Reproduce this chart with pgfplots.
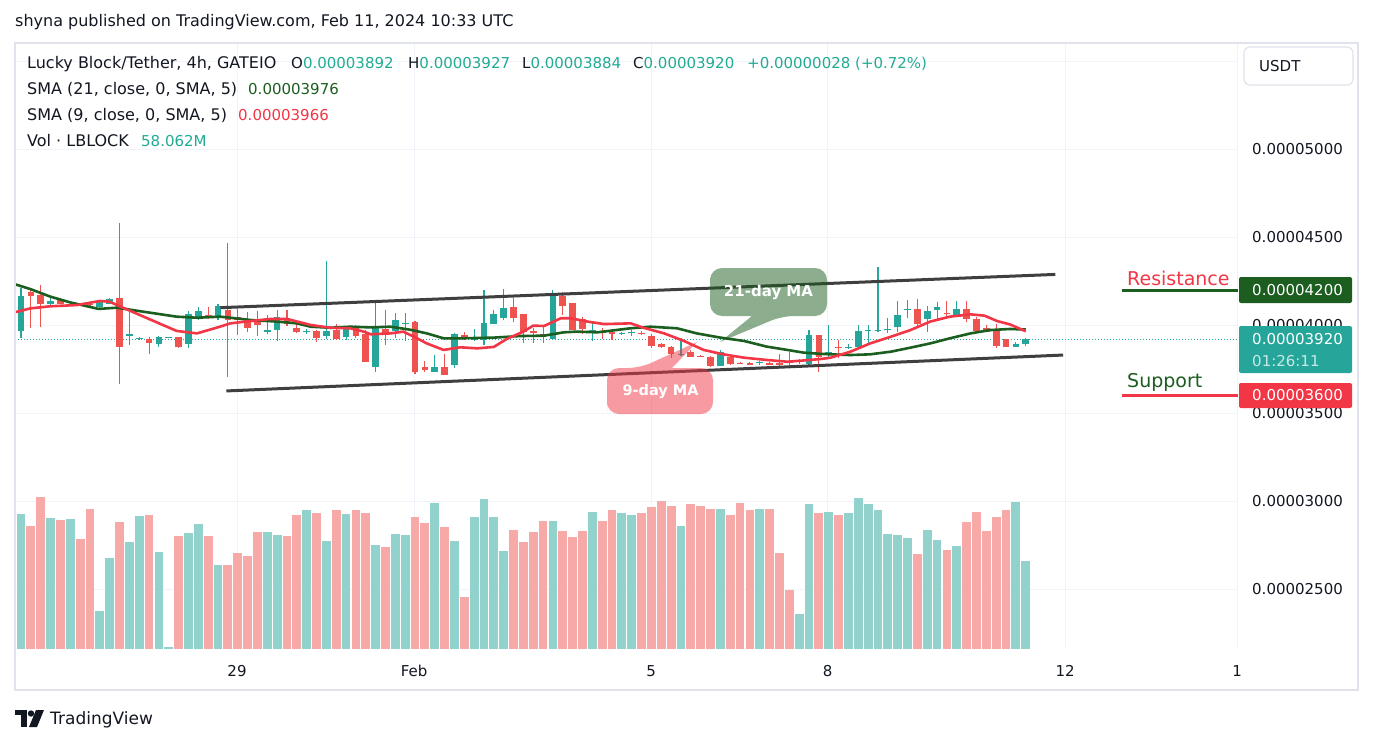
\documentclass[border=0pt]{standalone}
\usepackage{fontspec}
\setmainfont{DejaVu Sans}
\usepackage{pgfplots}
\pgfplotsset{compat=1.18}
\usepackage{pgfplotstable}
\definecolor{txt}{HTML}{131722}
\definecolor{upc}{HTML}{26A69A}
\definecolor{dnc}{HTML}{EF5350}
\definecolor{upv}{HTML}{92D2CC}
\definecolor{dnv}{HTML}{F7A9A7}
\definecolor{smag}{HTML}{1B5E20}
\definecolor{smar}{HTML}{F23645}
\definecolor{gridc}{HTML}{F0F3FA}
\definecolor{framec}{HTML}{E0E3EB}
\definecolor{chan}{HTML}{3F3F3F}
\definecolor{tvteal}{HTML}{22AB94}
\newcommand\fs[1]{\fontsize{#1}{#1}\selectfont}
% prices in units of 1e-8 USDT, volume in millions
\pgfplotstableread{
i O H L C V
0 3970 4210 3926 4166 89.1
1 4187 4206 3983 4168 81.2
2 4174 4229 3992 4119 100.3
3 4123 4153 4115 4138 86.4
4 4142 4153 4119 4123 85.1
5 4126 4135 4122 4130 85.8
6 4125 4128 4107 4110 72.6
7 4120 4124 4112 4116 92.4
8 4104 4138 4100 4130 25.1
9 4123 4157 4119 4149 60.0
10 4155 4579 3668 3879 83.8
11 3942 4091 3888 3948 70.6
12 3924 3934 3918 3928 87.8
13 3920 3934 3839 3901 88.4
14 3896 3941 3877 3934 64.0
15 3928 3932 3926 3931 1.3
16 3934 3934 3873 3879 74.6
17 3896 4081 3873 4064 76.5
18 4040 4104 4030 4081 82.5
19 4058 4104 4036 4040 74.6
20 4043 4123 4030 4110 55.4
21 4087 4466 3708 4030 55.4
22 4049 4091 3945 4030 63.3
23 4017 4077 3960 3987 61.4
24 4021 4081 3941 4002 77.2
25 3964 4058 3949 3973 77.2
26 3973 4085 3911 4047 75.2
27 4040 4085 3998 4006 74.6
28 3987 4011 3956 3964 88.4
29 3964 3977 3952 3968 91.7
30 3968 3973 3907 3930 89.7
31 3941 4365 3922 3968 71.3
32 3973 4007 3916 3920 91.7
33 3935 3998 3916 3990 89.1
34 3983 4002 3930 3941 91.7
35 3949 3973 3793 3793 89.7
36 3765 4140 3736 3996 68.6
37 3979 4087 3888 3954 67.3
38 3968 4072 3930 4030 75.9
39 4010 4072 3911 4014 75.2
40 4021 4024 3723 3736 87.1
41 3763 3797 3736 3746 83.1
42 3736 3831 3733 3763 96.3
43 3763 3839 3718 3718 80.5
44 3774 3954 3759 3951 71.3
45 3945 3964 3916 3922 34.3
46 3916 3979 3911 3920 87.1
47 3916 4201 3888 4013 99.0
48 4009 4087 4009 4064 87.1
49 4043 4206 4030 4096 64.7
50 4104 4157 4021 4043 78.5
51 4064 4064 3901 3964 70.6
52 3970 3983 3901 3958 77.2
53 3951 3988 3901 3935 84.5
54 3922 4199 3920 4165 84.5
55 4165 4187 4058 4112 77.9
56 4125 4125 3973 3973 73.9
57 4036 4047 3950 3979 77.9
58 3958 4011 3911 3973 90.4
59 3970 3983 3922 3956 84.5
60 3964 3964 3916 3949 91.7
61 3952 3964 3945 3956 89.7
62 3956 3973 3941 3960 88.4
63 3958 3967 3945 3954 89.7
64 3941 3949 3869 3884 93.7
65 3892 3901 3873 3875 97.7
66 3877 3884 3816 3835 94.4
67 3833 3926 3826 3837 81.2
68 3850 3860 3822 3822 95.7
69 3826 3831 3820 3822 94.4
70 3818 3827 3765 3771 92.4
71 3771 3860 3771 3850 92.4
72 3822 3831 3774 3778 88.4
73 3784 3790 3778 3780 96.3
74 3782 3790 3774 3778 91.7
75 3784 3799 3774 3788 92.4
76 3782 3793 3774 3778 92.4
77 3782 3835 3771 3778 63.3
78 3790 3850 3771 3786 38.9
79 3790 3808 3778 3794 23.1
80 3778 3973 3765 3945 95.7
81 3945 3945 3736 3822 89.7
82 3831 4002 3812 3850 90.4
83 3877 3916 3812 3875 88.4
84 3873 3892 3865 3877 89.7
85 3875 4002 3869 3968 99.6
86 3966 4002 3897 3970 95.7
87 3968 4329 3960 3972 91.7
88 3975 4040 3954 3979 75.9
89 3992 4138 3964 4058 75.2
90 4087 4144 4043 4091 73.2
91 4093 4149 3996 4007 62.7
92 4036 4112 3964 4081 78.5
93 4089 4130 4030 4104 71.9
94 4068 4138 4049 4066 65.3
95 4058 4138 4049 4091 68.0
96 4093 4138 4017 4034 83.8
97 4036 4049 3954 3968 90.4
98 3983 4002 3960 3964 77.9
99 3973 4005 3873 3884 87.1
100 3920 3920 3879 3879 91.7
101 3879 3903 3879 3894 97.0
102 3892 3927 3884 3920 58.1
}\candles
\begin{document}
\begin{tikzpicture}
\useasboundingbox[fill=white] (0pt,0pt) rectangle (1374pt,-744pt);
\begin{axis}[
  at={(15pt,-649pt)}, anchor=south west,
  width=1223pt, height=605pt, scale only axis,
  xmin=-0.61, xmax=123.55, ymin=2161, ymax=5598,
  axis line style={draw=none},
  major tick length=0pt,
  ytick={2500,3000,3500,4000,4500,5000,5500},
  yticklabels={0.00002500,0.00003000,0.00003500,0.00004000,0.00004500,0.00005000,{}},
  yticklabel pos=right,
  yticklabel style={anchor=west, inner sep=0pt, xshift=14pt},
  xtick={21.93,39.9,63.96,81.9,106,123.45},
  xticklabels={29,Feb,5,8,12,1},
  xticklabel style={anchor=base, inner sep=0pt, yshift=-27pt},
  grid=major, major grid style={draw=gridc, line width=1pt},
  tick label style={font=\fs{15}, text=txt},
  /pgf/number format/assume math mode=true,
  candle/.style={draw=none, mark=none, forget plot,
    error bars/y dir=plus, error bars/y explicit, error bars/error mark=none},
]
% volume
\addplot [candle, restrict expr to domain={\thisrow{C}-\thisrow{O}}{0:100000},
  error bars/error bar style={line width=8.8pt, draw=upv}]
  table [x=i, y expr=2161, y error plus expr={\thisrow{V}*8.611}] {\candles};
\addplot [candle, restrict expr to domain={\thisrow{C}-\thisrow{O}}{-100000:-0.01},
  error bars/error bar style={line width=8.8pt, draw=dnv}]
  table [x=i, y expr=2161, y error plus expr={\thisrow{V}*8.611}] {\candles};
% current price line
\addplot [upc, line width=1pt, dash pattern=on 1pt off 2pt] coordinates {(-0.61,3920) (123.55,3920)};
% wicks
\addplot [candle, restrict expr to domain={\thisrow{C}-\thisrow{O}}{0:100000},
  error bars/error bar style={line width=1.1pt, draw=upc}]
  table [x=i, y=L, y error plus expr={\thisrow{H}-\thisrow{L}}] {\candles};
\addplot [candle, restrict expr to domain={\thisrow{C}-\thisrow{O}}{-100000:-0.01},
  error bars/error bar style={line width=1.1pt, draw=dnc}]
  table [x=i, y=L, y error plus expr={\thisrow{H}-\thisrow{L}}] {\candles};
% bodies
\addplot [candle, restrict expr to domain={\thisrow{C}-\thisrow{O}}{0:100000},
  error bars/error bar style={line width=6.7pt, draw=upc}]
  table [x=i, y expr={0.5*(\thisrow{O}+\thisrow{C})-0.5*max(abs(\thisrow{C}-\thisrow{O}),6)},
         y error plus expr={max(abs(\thisrow{C}-\thisrow{O}),6)}] {\candles};
\addplot [candle, restrict expr to domain={\thisrow{C}-\thisrow{O}}{-100000:-0.01},
  error bars/error bar style={line width=6.7pt, draw=dnc}]
  table [x=i, y expr={0.5*(\thisrow{O}+\thisrow{C})-0.5*max(abs(\thisrow{C}-\thisrow{O}),6)},
         y error plus expr={max(abs(\thisrow{C}-\thisrow{O}),6)}] {\candles};
% SMA 21
\addplot [smag, line width=2.6pt, line join=round] coordinates {
(-0.61,4233) (0.94,4206) (2.97,4163) (5.0,4130) (7.88,4093) (9.74,4100) (12.45,4077) (15.8,4049)
(17.87,4043) (20.2,4049) (21.25,4043) (23.3,4030) (26.0,4021) (28.0,4011) (29.4,3992) (31.4,3986)
(33.4,3992) (35.5,3988) (37.5,3992) (39.5,3975) (41.2,3954) (42.9,3926) (44.6,3926) (48.0,3930)
(50.7,3939) (53.1,3941) (55.1,3960) (56.4,3964) (58.5,3960) (61.9,3983) (63.9,3992) (66.6,3983)
(68.6,3954) (71.0,3930) (73.4,3911) (75.7,3879) (77.8,3860) (79.4,3845) (81.1,3838) (82.2,3835)
(84.2,3831) (86.2,3835) (88.3,3850) (90.3,3873) (92.3,3897) (94.3,3926) (96.4,3954) (98.4,3973)
(100.4,3979) (102,3976)};
% SMA 9
\addplot [smar, line width=2.6pt, line join=round] coordinates {
(-0.61,4074) (0.94,4096) (2.97,4108) (5.68,4115) (8.0,4138) (9.0,4134) (10.1,4106) (12.45,4049)
(15.8,3968) (17.87,3954) (20.2,3992) (21.25,4011) (23.3,4024) (25.3,4036) (27.0,4036) (29.4,4002)
(31.4,3986) (33.4,3983) (34.8,3964) (35.5,3949) (37.5,3954) (38.8,3964) (39.9,3935) (41.2,3897)
(42.9,3860) (44.6,3875) (46.3,3869) (48.0,3877) (49.3,3922) (51.0,3964) (52.0,3998) (53.1,3996)
(54.8,4040) (55.8,4040) (57.5,4021) (59.2,4007) (61.9,4011) (63.2,3986) (65.3,3954) (67.3,3911)
(69.3,3860) (71.3,3835) (73.4,3816) (75.7,3803) (77.8,3793) (79.4,3800) (81.1,3808) (82.2,3816)
(84.2,3850) (86.2,3897) (88.3,3935) (90.3,3973) (92.3,4021) (94.3,4049) (96.4,4062) (97.8,4055)
(99.1,4024) (100.4,4005) (102,3966)};
% channel
\addplot [chan, line width=3pt] coordinates {(20.25,4100) (105.0,4289)};
\addplot [chan, line width=3pt] coordinates {(20.85,3627) (105.8,3831)};
% resistance / support
\addplot [smag, line width=3pt] coordinates {(111.8,4200) (123.55,4200)};
\addplot [smar, line width=3pt] coordinates {(111.8,3600) (123.55,3600)};
\end{axis}
\begin{scope}[x=1pt,y=-1pt]
% callouts
\fill[smag, fill opacity=0.5] (710,280) [rounded corners=12pt] -- (710,268) -- (827,268) -- (827,316) -- (782,316) [sharp corners] -- (720,342) -- (752,316) [rounded corners=12pt] -- (710,316) -- (710,290) [sharp corners] -- cycle;
\node[text=white, font=\bfseries\fs{15}] at (768.5,292) {21-day MA};
\fill[smar, fill opacity=0.5] (607,390) [rounded corners=12pt] -- (607,368) -- (640,368) [sharp corners] -- (697,342) -- (672,368) [rounded corners=12pt] -- (713,368) -- (713,414) -- (607,414) -- (607,400) [sharp corners] -- cycle;
\node[text=white, font=\bfseries\fs{14.5}] at (660.5,391.5) {9-day MA};
% right labels
\node[anchor=base west, inner sep=0pt, text=smar, font=\fs{19}] at (1127,285) {Resistance};
\node[anchor=base west, inner sep=0pt, text=smag, font=\fs{19}] at (1127,387) {Support};
\fill[smag, rounded corners=2pt] (1239,277) rectangle (1352,303);
\node[anchor=west, inner sep=0pt, text=white, font=\fs{15}] at (1252,290) {0.00004200};
\fill[upc, rounded corners=2pt] (1239,326) rectangle (1352,373);
\node[anchor=west, inner sep=0pt, text=white, font=\fs{15}] at (1252,339) {0.00003920};
\node[anchor=west, inner sep=0pt, text=white, text opacity=0.75, font=\fs{15}] at (1252,361) {01:26:11};
\fill[smar, rounded corners=2pt] (1239,383) rectangle (1352,408);
\node[anchor=west, inner sep=0pt, text=white, font=\fs{15}] at (1252,395.5) {0.00003600};
\draw[framec, line width=1.2pt, fill=white, rounded corners=6pt] (1244,47) rectangle (1353,85);
\node[anchor=west, inner sep=0pt, text=txt, font=\fs{15}] at (1259,66) {USDT};
% frame
\draw[framec, line width=2pt] (15,43) rectangle (1358,690);
% header and legend
\node[anchor=base west, inner sep=0pt, text=txt, font=\fs{16}] at (15,26.5) {shyna published on TradingView.com, Feb 11, 2024 10:33 UTC};
\begin{scope}[every node/.style={anchor=base west, inner sep=0pt, text=txt, font=\fs{15}}]
\node[font=\fs{16}] at (27,68.5) {Lucky Block/Tether, 4h, GATEIO};
\node at (291,68.5) {O\textcolor{tvteal}{0.00003892}};
\node at (408,68.5) {H\textcolor{tvteal}{0.00003927}};
\node at (522,68.5) {L\textcolor{tvteal}{0.00003884}};
\node at (633,68.5) {C\textcolor{tvteal}{0.00003920}};
\node at (747,68.5) {\textcolor{tvteal}{+0.00000028 (+0.72\%)}};
\node[font=\fs{16}] at (27,94.5) {SMA (21, close, 0, SMA, 5)};
\node at (248,94.5) {\textcolor{smag}{0.00003976}};
\node[font=\fs{16}] at (27,120.5) {SMA (9, close, 0, SMA, 5)};
\node at (238,120.5) {\textcolor{smar}{0.00003966}};
\node[font=\fs{16}] at (27,146.5) {Vol · LBLOCK};
\node at (141,146.5) {\textcolor{tvteal}{58.062M}};
\end{scope}
% logo
\fill[txt] (15,710) rectangle (27,715);
\fill[txt] (21,710) rectangle (27,727);
\fill[txt] (31,713.5) circle (3.2);
\fill[txt] (36,710) -- (44,710) -- (37,727) -- (29,727) -- cycle;
\node[anchor=base west, inner sep=0pt, text=txt, font=\fs{17}] at (50,724) {TradingView};
\end{scope}
\end{tikzpicture}
\end{document}
